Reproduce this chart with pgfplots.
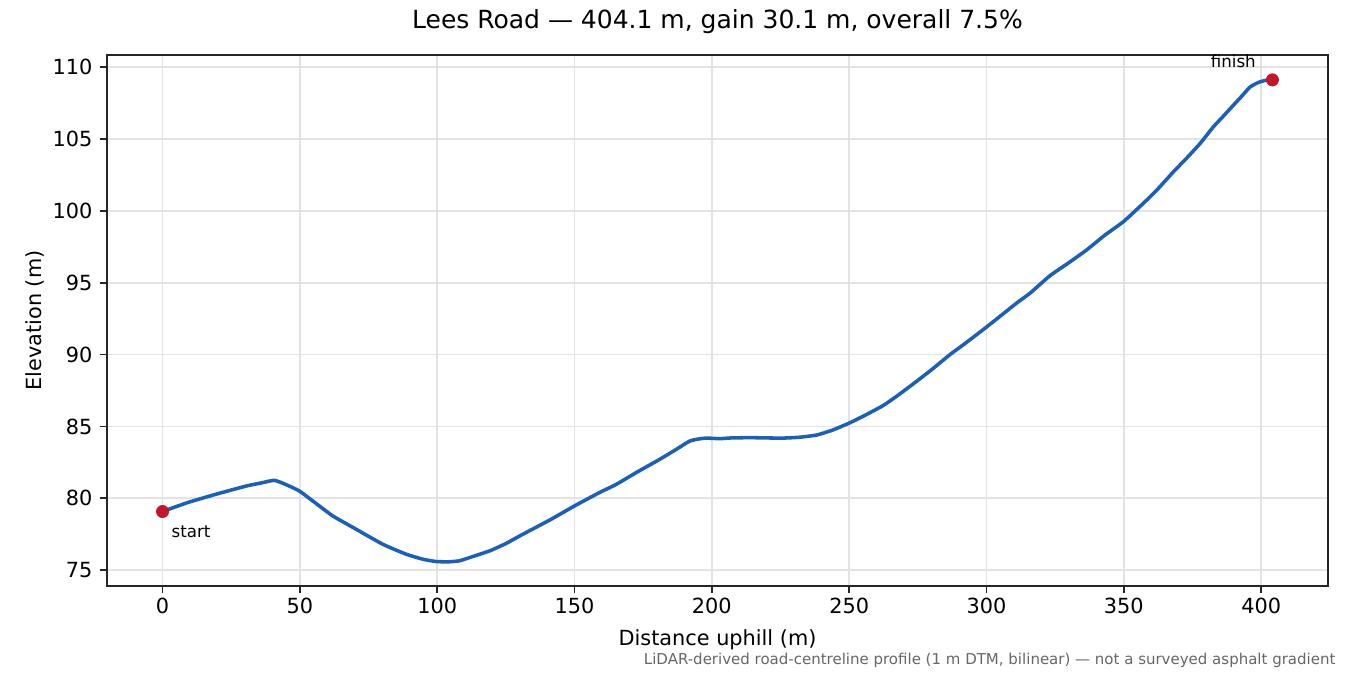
\documentclass[border=0pt]{standalone}
\usepackage{pgfplots}
\pgfplotsset{compat=1.18}
\usepackage{fontspec}
\setmainfont{DejaVu Sans}
\definecolor{lineblue}{HTML}{1C5FB4}
\definecolor{dotred}{HTML}{C0182A}
\begin{document}
\begin{tikzpicture}
\begin{axis}[
    name=ax,
    scale only axis,
    width=586.1pt,
    height=254.9pt,
    xmin=-20.2, xmax=424.3,
    ymin=73.9, ymax=110.85,
    xtick={0,50,...,400},
    ytick={75,80,...,110},
    tick pos=left,
    tick align=outside,
    major tick length=3.5pt,
    every tick/.style={black!85, line width=0.8pt},
    axis line style={black!85, line width=0.8pt},
    grid=major,
    grid style={black!11, line width=0.8pt},
    /pgf/number format/assume math mode=true,
    ticklabel style={font=\fontsize{10}{12}\selectfont},
    xticklabel style={yshift=1pt},
    title={Lees Road — 404.1 m, gain 30.1 m, overall 7.5\%},
    title style={at={(axis description cs:0.5,1.039)}, anchor=center, font=\fontsize{12}{14}\selectfont},
    xlabel={Distance uphill (m)},
    ylabel={Elevation (m)},
    xlabel style={at={(axis description cs:0.5,-0.102)}, anchor=center, font=\fontsize{10}{12}\selectfont},
    ylabel style={at={(axis description cs:-0.059,0.5)}, anchor=center, font=\fontsize{10}{12}\selectfont},
    clip mode=individual,
]
% elevation profile
\addplot[lineblue, line width=1.7pt, line join=round, smooth, tension=0.3] coordinates {
(0,79.08) (9.1,79.70) (19.4,80.28) (30.4,80.85) (36,81.07) (40.7,81.25)
(45,80.95) (49.8,80.51) (55,79.77) (62,78.77) (70,77.9) (80.2,76.8)
(88.7,76.11) (95,75.75) (99.6,75.6) (104,75.58) (108.1,75.65) (113,75.95)
(119.1,76.34) (125,76.85) (131.2,77.5) (141,78.49) (150,79.47) (159.1,80.4)
(165.2,80.97) (173,81.85) (181,82.71) (187,83.4) (191.9,83.98) (195,84.12)
(198,84.19) (202.9,84.15) (207,84.2) (213.8,84.22) (220,84.2) (226,84.19)
(232,84.25) (238.1,84.40) (244,84.75) (250.3,85.26) (256,85.8) (262.4,86.46)
(268,87.2) (274.6,88.15) (280,88.95) (286.7,90) (292,90.75) (298.8,91.74)
(304.9,92.66) (311,93.59) (316,94.3) (323.1,95.49) (330,96.4) (336.5,97.29)
(343,98.3) (349.9,99.26) (357.1,100.53) (362,101.45) (368.1,102.73) (373,103.7)
(377.8,104.7) (382.6,105.85) (386,106.55) (389.9,107.36) (393,108.0) (396,108.63)
(399,108.94) (401.5,109.08) (404.1,109.12)
};
% start and finish
\addplot[only marks, mark=*, mark size=2.9pt, color=dotred] coordinates {(0,79.08) (404.1,109.12)};
\node[anchor=west, inner sep=0pt, xshift=4.2pt, yshift=-9.5pt, font=\fontsize{8}{9.6}\selectfont] at (axis cs:0,79.08) {start};
\node[anchor=east, inner sep=0pt, xshift=-7.8pt, yshift=9pt, font=\fontsize{8}{9.6}\selectfont] at (axis cs:404.1,109.12) {finish};
\end{axis}
\node[anchor=east, inner sep=0pt, text=black!60, font=\fontsize{7.2}{8.6}\selectfont] at ([shift={(3.8pt,-35.5pt)}]ax.south east) {LiDAR-derived road-centreline profile (1 m DTM, bilinear) — not a surveyed asphalt gradient};
\pgfresetboundingbox
\path[use as bounding box] ([shift={(-51.4pt,-42.7pt)}]ax.south west) rectangle ([shift={(10.6pt,26.4pt)}]ax.north east);
\end{tikzpicture}
\end{document}
